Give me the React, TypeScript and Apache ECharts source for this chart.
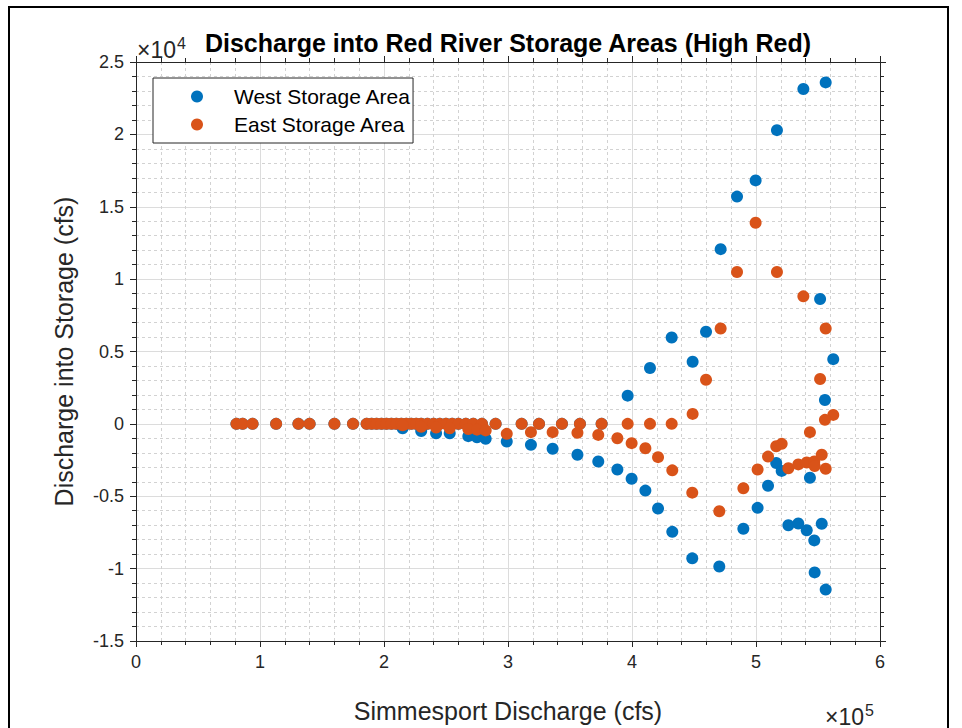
import React, { useEffect, useRef } from "react";
import * as echarts from "echarts";

// Simmesport discharge (cfs) shared by both storage areas
const simmesportQ = [
  81000, 86000, 94000, 113000, 131000, 140000, 160000, 175000, 186000, 190000,
  194000, 198000, 202000, 206000, 210000, 214000, 218000, 222000, 226000, 230000,
  235000, 240000, 245000, 250000, 255000, 260000, 266000, 272000, 279000, 290000,
  311000, 325000, 343500, 358000, 375500, 396500, 414500, 432000, 448900, 459700,
  471500, 484700, 499700, 516900, 538200, 556200, 551700, 562300, 555600,
  215000, 230000, 242000, 253000, 268000, 275000, 282000, 299000, 318500, 336000,
  356000, 372800, 388200, 399700, 410800, 421000, 432500, 448600, 470400, 489800,
  501300, 509700, 516300, 520700, 526100, 534100, 540900, 547000, 553000, 556200,
  547300, 543500,
];

// Discharge into West Storage Area (cfs)
const westQ = [
  0, 0, 0, 0, 0, 0, 0, 0, 0, 0,
  0, 0, 0, 0, 0, 0, 0, 0, 0, 0,
  0, 0, 0, 0, 0, 0, 0, 0, 0, 0,
  0, 0, 0, 0, 0, 1950, 3860, 5970, 4290, 6360,
  12070, 15700, 16820, 20290, 23130, 23590, 8630, 4470, 1650,
  -300, -500, -650, -650, -850, -920, -1030, -1220, -1450, -1720,
  -2130, -2600, -3150, -3790, -4610, -5850, -7460, -9290, -9850, -7250,
  -5800, -4270, -2700, -3250, -7000, -6880, -7350, -8050, -6900, -11450,
  -10260, -3720,
];

// Discharge into East Storage Area (cfs)
const eastQ = [
  0, 0, 0, 0, 0, 0, 0, 0, 0, 0,
  0, 0, 0, 0, 0, 0, 0, 0, 0, 0,
  0, 0, 0, 0, 0, 0, 0, 0, 0, 0,
  0, 0, 0, 0, 0, 0, 0, 0, 690, 3050,
  6590, 10490, 13890, 10490, 8810, 6590, 3100, 620, 280,
  -100, -200, -250, -300, -350, -400, -450, -690, -570, -570,
  -620, -760, -990, -1330, -1680, -2300, -3210, -4750, -6040, -4450,
  -3150, -2260, -1550, -1380, -3070, -2800, -2670, -2600, -2130, -3100,
  -2910, -570,
];

const seriesNames = ["West Storage Area", "East Storage Area"];
const xTicks = { min: 0, max: 600000, interval: 100000 };
const yTicks = { min: -15000, max: 25000, interval: 5000 };

const FONT = "'Liberation Sans', Arial, Helvetica, sans-serif";
const INK = "#262626";

export default function App() {
  const ref = useRef<HTMLDivElement>(null);
  useEffect(() => {
    if (!ref.current) return;
    const chart = echarts.init(ref.current, undefined, { renderer: "svg" });
    const tickStyle = { color: INK, width: 1 };
    const commonAxis = (extra: any) => ({
      type: "value",
      axisLine: { show: true, onZero: false, lineStyle: tickStyle },
      axisTick: { show: true, inside: false, length: 6, lineStyle: tickStyle },
      minorTick: { show: true, splitNumber: 5, length: 4, lineStyle: tickStyle },
      ...extra,
    });
    const westData = simmesportQ.map((x, i) => [x, westQ[i]]);
    const eastData = simmesportQ.map((x, i) => [x, eastQ[i]]);
    chart.setOption({
      animation: false,
      backgroundColor: "#ffffff",
      textStyle: { fontFamily: FONT },
      grid: { left: 136, top: 62, width: 744, height: 581, containLabel: false },
      xAxis: [
        commonAxis({
          ...xTicks,
          position: "bottom",
          splitLine: { show: true, lineStyle: { color: "#dcdcdc", width: 1 } },
          minorSplitLine: { show: true, lineStyle: { color: "#d2d2d2", width: 1, type: [3, 3] } },
          axisLabel: {
            formatter: (v: number) => String(v / 1e5),
            fontSize: 18,
            color: INK,
            margin: 12,
            fontFamily: FONT,
          },
          name: "Simmesport Discharge (cfs)",
          nameLocation: "middle",
          nameGap: 57,
          nameTextStyle: { fontSize: 25, color: INK, fontFamily: FONT },
        }),
        commonAxis({
          ...xTicks,
          position: "top",
          splitLine: { show: false },
          axisLabel: { show: false },
        }),
      ],
      yAxis: [
        commonAxis({
          ...yTicks,
          position: "left",
          splitLine: { show: true, lineStyle: { color: "#dcdcdc", width: 1 } },
          minorSplitLine: { show: true, lineStyle: { color: "#d2d2d2", width: 1, type: [3, 3] } },
          axisLabel: {
            formatter: (v: number) => String(v / 1e4),
            fontSize: 18,
            color: INK,
            margin: 12,
            fontFamily: FONT,
          },
          name: "Discharge into Storage (cfs)",
          nameLocation: "middle",
          nameGap: 60,
          nameTextStyle: { fontSize: 25, color: INK, fontFamily: FONT },
        }),
        commonAxis({
          ...yTicks,
          position: "right",
          splitLine: { show: false },
          axisLabel: { show: false },
        }),
      ],
      legend: {
        data: seriesNames,
        orient: "vertical",
        left: 153,
        top: 78,
        icon: "circle",
        itemWidth: 12,
        itemHeight: 12,
        itemGap: 7,
        padding: [8, 2, 8, 38],
        borderColor: INK,
        borderWidth: 1,
        backgroundColor: "#ffffff",
        textStyle: { fontSize: 21, color: "#000", fontFamily: FONT, padding: [0, 0, 0, 26] },
      },
      series: [
        {
          name: seriesNames[0],
          type: "scatter",
          xAxisIndex: 0,
          yAxisIndex: 0,
          symbol: "circle",
          symbolSize: 12,
          itemStyle: { color: "#0072BD", opacity: 1 },
          data: westData,
          z: 3,
        },
        {
          name: seriesNames[1],
          type: "scatter",
          xAxisIndex: 0,
          yAxisIndex: 0,
          symbol: "circle",
          symbolSize: 12,
          itemStyle: { color: "#D95319", opacity: 1 },
          data: eastData,
          z: 4,
        },
      ],
      graphic: [
        {
          type: "rect",
          shape: { x: 9, y: 7, width: 939, height: 740 },
          style: { fill: "none", stroke: "#000", lineWidth: 2 },
          silent: true,
          z: 100,
        },
        {
          type: "text",
          x: 508,
          y: 43,
          style: {
            text: "Discharge into Red River Storage Areas (High Red)",
            fontSize: 25,
            fontWeight: "bold",
            fontFamily: FONT,
            fill: "#000",
            align: "center",
            verticalAlign: "middle",
          },
        },
        {
          type: "text",
          x: 137,
          y: 61,
          style: { text: "×10", fontSize: 23, fontFamily: FONT, fill: INK, align: "left", verticalAlign: "bottom" },
        },
        {
          type: "text",
          x: 177,
          y: 51,
          style: { text: "4", fontSize: 16, fontFamily: FONT, fill: INK, align: "left", verticalAlign: "bottom" },
        },
        {
          type: "text",
          x: 825,
          y: 728,
          style: { text: "×10", fontSize: 23, fontFamily: FONT, fill: INK, align: "left", verticalAlign: "bottom" },
        },
        {
          type: "text",
          x: 865,
          y: 718,
          style: { text: "5", fontSize: 16, fontFamily: FONT, fill: INK, align: "left", verticalAlign: "bottom" },
        },
      ],
    });
    return () => chart.dispose();
  }, []);
  return (
    <div
      ref={ref}
      style={{ position: "fixed", left: 0, top: 0, width: 962, height: 728 }}
    />
  );
}
